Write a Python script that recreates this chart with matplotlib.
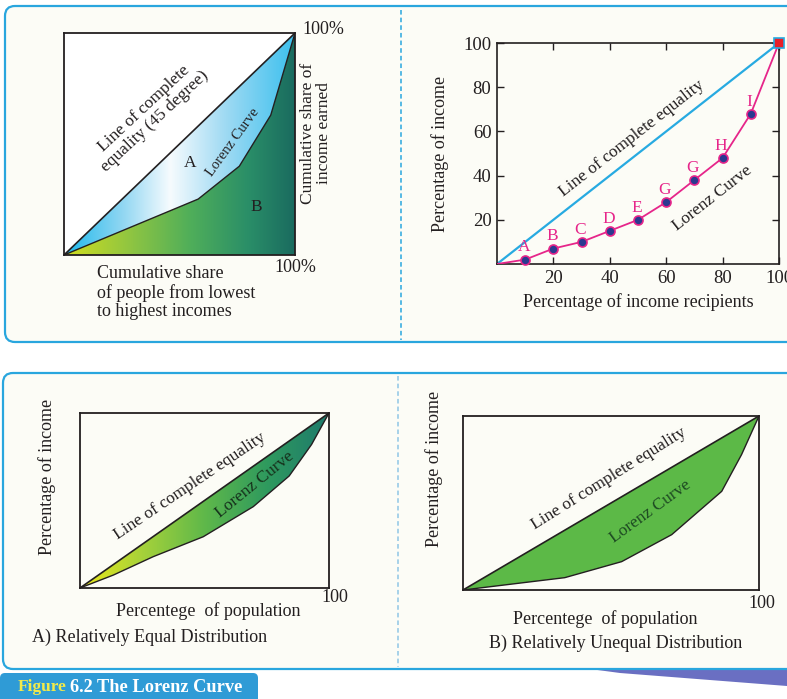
import matplotlib.pyplot as plt
from matplotlib.patches import FancyBboxPatch, Polygon
from matplotlib.colors import LinearSegmentedColormap
import numpy as np

plt.rcParams['font.family'] = ['Liberation Serif', 'DejaVu Serif']

W, H = 787, 699
INK = '#231f20'
BLUE = '#29a6de'
CREAM = '#fcfcf6'
FS = 13

# top-left: schematic Lorenz curve (percent)
tl_x = [0, 58.1, 75.9, 89.5, 100]
tl_y = [0, 25.2, 40.0, 63.0, 100]

# top-right: Lorenz curve with lettered points
tr_x = [0, 10, 20, 30, 40, 50, 60, 70, 80, 90, 100]
tr_y = [0, 2, 7, 10, 15, 20, 28, 38, 48, 68, 100]
tr_letters = ['A', 'B', 'C', 'D', 'E', 'G', 'G', 'H', 'I']
tr_ticks = [20, 40, 60, 80, 100]

# bottom-left: relatively equal distribution
eq_x = [0, 13.4, 29.4, 49.5, 69.6, 84.0, 93.0, 100]
eq_y = [0, 7.4, 17.9, 29.3, 46.5, 64.0, 82.0, 100]

# bottom-right: relatively unequal distribution
uneq_x = [0, 34.4, 53.6, 70.5, 87.4, 94.1, 100]
uneq_y = [0, 7.1, 16.3, 31.8, 56.7, 77.8, 100]


def px_axes(x0, y0, x1, y1):
    return fig.add_axes([x0 / W, 1 - y1 / H, (x1 - x0) / W, (y1 - y0) / H])


def gradient_fill(ax, xs, ys, colors, stops=None):
    if stops is None:
        stops = np.linspace(0, 1, len(colors))
    cmap = LinearSegmentedColormap.from_list('g', list(zip(stops, colors)))
    grad = np.linspace(0, 1, 256).reshape(1, -1)
    im = ax.imshow(grad, extent=[0, 100, 0, 100], aspect='auto',
                   cmap=cmap, origin='lower', zorder=1)
    poly = Polygon(list(zip(xs, ys)), closed=True, facecolor='none',
                   edgecolor='none', transform=ax.transData)
    ax.add_patch(poly)
    im.set_clip_path(poly)


def plain_box(ax, face):
    ax.set_xlim(0, 100)
    ax.set_ylim(0, 100)
    ax.set_xticks([])
    ax.set_yticks([])
    ax.set_facecolor(face)
    for s in ax.spines.values():
        s.set_color(INK)
        s.set_linewidth(1.3)


fig = plt.figure(figsize=(W / 100, H / 100), dpi=100)
fig.patch.set_facecolor('white')

# background layer in pixel coordinates
bg = fig.add_axes([0, 0, 1, 1])
bg.set_xlim(0, W)
bg.set_ylim(H, 0)
bg.axis('off')

bg.add_patch(FancyBboxPatch((5, 6), 820, 336, boxstyle='round,pad=0,rounding_size=10',
                            facecolor=CREAM, edgecolor=BLUE, linewidth=1.6))
bg.add_patch(Polygon([(590, 669), (787, 669), (787, 686), (620, 673)],
                     closed=True, facecolor='#6a6fc2', edgecolor='none'))
bg.add_patch(FancyBboxPatch((3, 373), 820, 296, boxstyle='round,pad=0,rounding_size=10',
                            facecolor=CREAM, edgecolor=BLUE, linewidth=1.6))
bg.plot([401, 401], [10, 340], color=BLUE, lw=1.1, ls=(0, (3, 2)))
bg.plot([398, 398], [376, 667], color='#8fc6e6', lw=1.1, ls=(0, (3, 2)))

# caption tab
bg.add_patch(FancyBboxPatch((0, 673), 258, 40, boxstyle='round,pad=0,rounding_size=5',
                            facecolor='#2f9bd6', edgecolor='none'))
bg.text(18, 687, 'Figure', color='#f2ea4a', fontsize=12.5, fontweight='bold',
        va='center', ha='left')
bg.text(70, 687, '6.2 The Lorenz Curve', color='white', fontsize=13.2,
        fontweight='bold', va='center', ha='left')

# ---------------- top-left panel ----------------
ax1 = px_axes(64, 33, 295, 255)
plain_box(ax1, 'white')
gradient_fill(ax1, [0, 100] + tl_x[::-1][1:], [0, 100] + tl_y[::-1][1:],
              ['#1db8ec', '#8fd6f2', '#f6fbfe', '#9fdaf3', '#3cc0ee'],
              [0, 0.25, 0.46, 0.7, 1])
gradient_fill(ax1, tl_x + [100], tl_y + [0],
              ['#d2de1e', '#8cc443', '#4fae5a', '#2a8e68', '#1a6b5f'],
              [0, 0.3, 0.55, 0.8, 1])
ax1.plot([0, 100], [0, 100], color=INK, lw=1.2, zorder=3)
ax1.plot(tl_x, tl_y, color=INK, lw=1.0, zorder=3)
ax1.text(37, 63, 'Line of complete\nequality (45 degree)', rotation=43,
         rotation_mode='anchor', ha='center', va='center', fontsize=12.5,
         color=INK, linespacing=1.05)
ax1.text(54.5, 41.3, 'A', ha='center', va='center', fontsize=12.5, color=INK)
ax1.text(73, 50.8, 'Lorenz Curve', rotation=54, rotation_mode='anchor',
         ha='center', va='center', fontsize=10.5, color=INK)
ax1.text(83.4, 21.8, 'B', ha='center', va='center', fontsize=12.5, color=INK)

bg.text(302, 30, '100%', ha='left', va='center', fontsize=FS, color=INK)
bg.text(316, 133, 'Cumulative share of\nincome earned', rotation=90,
        ha='center', va='center', fontsize=12.5, color=INK, linespacing=1.0)
bg.text(295, 267, '100%', ha='center', va='center', fontsize=FS, color=INK)
bg.text(97, 265, 'Cumulative share\nof people from lowest\nto highest incomes',
        ha='left', va='top', fontsize=FS, color=INK, linespacing=1.13)

# ---------------- top-right panel ----------------
ax2 = px_axes(497, 43, 779, 264)
ax2.set_facecolor(CREAM)
ax2.plot([0, 100], [0, 100], color='#27aae1', lw=1.6, zorder=2)
ax2.plot(tr_x, tr_y, color='#e6258a', lw=1.3, zorder=3)
ax2.plot(tr_x[1:-1], tr_y[1:-1], 'o', ms=6.5, mfc='#2b3990', mec='#e6258a',
         mew=1.2, zorder=4, clip_on=False)
ax2.plot(tr_x[-1:], tr_y[-1:], 's', ms=6.5, mfc='#e8202a', mec='#27aae1',
         mew=1.2, zorder=5, clip_on=False)
for xv, yv, lab in zip(tr_x[1:-1], tr_y[1:-1], tr_letters):
    ax2.text(xv - 0.5, yv + 5.5, lab, ha='center', va='center', fontsize=12.5,
             color='#e6258a')
ax2.text(47.8, 56.9, 'Line of complete equality', rotation=38,
         rotation_mode='anchor', ha='center', va='center', fontsize=12.5, color=INK)
ax2.text(76.4, 29.7, 'Lorenz Curve', rotation=38, rotation_mode='anchor',
         ha='center', va='center', fontsize=12.5, color=INK)
ax2.set_xlim(0, 100)
ax2.set_ylim(0, 100)
ax2.set_xticks(tr_ticks)
ax2.set_yticks(tr_ticks)
ax2.set_xticklabels([str(t) for t in tr_ticks])
ax2.set_yticklabels([str(t) for t in tr_ticks])
ax2.tick_params(direction='in', top=True, right=True, length=5, width=1,
                labelsize=13.5, colors=INK, pad=4)
for s in ax2.spines.values():
    s.set_color(INK)
    s.set_linewidth(1.2)
bg.text(440, 154, 'Percentage of income', rotation=90, ha='center', va='center',
        fontsize=FS, color=INK)
bg.text(638, 302, 'Percentage of income recipients', ha='center', va='center',
        fontsize=FS, color=INK)

# ---------------- bottom-left panel ----------------
ax3 = px_axes(80, 413, 329, 588)
plain_box(ax3, CREAM)
gradient_fill(ax3, [0, 100] + eq_x[::-1][1:], [0, 100] + eq_y[::-1][1:],
              ['#ece81a', '#a6d23a', '#5fb84a', '#2f9a5e', '#1e7a6c'],
              [0, 0.25, 0.5, 0.75, 1])
ax3.plot([0, 100], [0, 100], color=INK, lw=1.2, zorder=3)
ax3.plot(eq_x, eq_y, color=INK, lw=1.0, zorder=3)
ax3.text(44.2, 57.9, 'Line of complete equality', rotation=34,
         rotation_mode='anchor', ha='center', va='center', fontsize=12.5, color=INK)
ax3.text(70, 59, 'Lorenz Curve', rotation=39, rotation_mode='anchor',
         ha='center', va='center', fontsize=12.5, color='#16321c')
bg.text(335, 597, '100', ha='center', va='center', fontsize=FS, color=INK)
bg.text(208, 611, 'Percentege  of population', ha='center', va='center',
        fontsize=FS, color=INK)
bg.text(32, 637, 'A) Relatively Equal Distribution', ha='left', va='center',
        fontsize=FS, color=INK)
bg.text(47, 477, 'Percentage of income', rotation=90, ha='center', va='center',
        fontsize=FS, color=INK)

# ---------------- bottom-right panel ----------------
ax4 = px_axes(463, 416, 759, 590)
plain_box(ax4, CREAM)
ax4.fill(uneq_x + [100], uneq_y + [100], facecolor='#5cb947', edgecolor='none',
         zorder=1)
ax4.plot([0, 100], [0, 100], color=INK, lw=1.2, zorder=3)
ax4.plot(uneq_x, uneq_y, color=INK, lw=1.0, zorder=3)
ax4.text(49.1, 64.2, 'Line of complete equality', rotation=32,
         rotation_mode='anchor', ha='center', va='center', fontsize=12.5, color=INK)
ax4.text(63.2, 45, 'Lorenz Curve', rotation=36, rotation_mode='anchor',
         ha='center', va='center', fontsize=12.5, color='#1d4a22')
bg.text(762, 604, '100', ha='center', va='center', fontsize=FS, color=INK)
bg.text(605, 619, 'Percentege  of population', ha='center', va='center',
        fontsize=FS, color=INK)
bg.text(616, 643, 'B) Relatively Unequal Distribution', ha='center', va='center',
        fontsize=FS, color=INK)
bg.text(434, 469, 'Percentage of income', rotation=90, ha='center', va='center',
        fontsize=FS, color=INK)

fig.savefig('out.png', dpi=100, facecolor='white')
